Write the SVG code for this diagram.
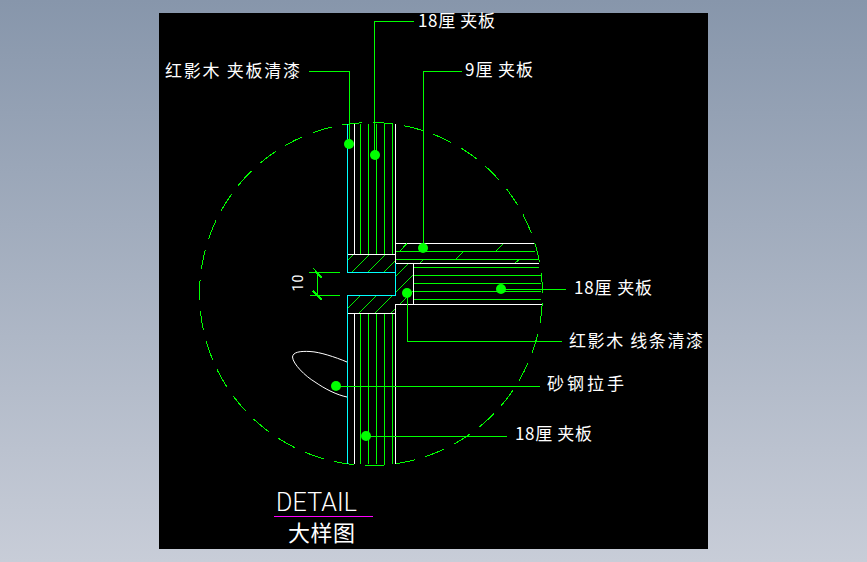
<svg xmlns="http://www.w3.org/2000/svg" width="867" height="562" viewBox="0 0 867 562">
<style>
path,rect{shape-rendering:crispEdges}
.g{stroke:#00ff00;fill:none;stroke-width:1}
.w{stroke:#fff;fill:none;stroke-width:1}
.c{stroke:#00ffff;fill:none;stroke-width:1}
.d{fill:#00ff00}
.t{fill:#fff;font-family:"Noto Sans CJK SC","Liberation Sans",sans-serif;font-size:17px;font-weight:400}
</style>
<defs>
<linearGradient id="bg" x1="0" y1="0" x2="0" y2="1"><stop offset="0" stop-color="#8796ab"/><stop offset="1" stop-color="#c8cdd8"/></linearGradient>
<pattern id="hatch" patternUnits="userSpaceOnUse" width="16" height="16"><path d="M-2 18L18 -2M-2 2L2 -2M14 18L18 14" stroke="#00f000" stroke-width="1" fill="none"/></pattern>
</defs>
<rect width="867" height="562" fill="url(#bg)"/>
<rect x="159" y="13" width="549" height="536" fill="#000"/>
<g id="outline">
<circle cx="371" cy="294" r="171.5" stroke="#00ff00" fill="none" stroke-width="1" shape-rendering="crispEdges" stroke-dasharray="20 10.79" stroke-dashoffset="21.5"/>
</g>
<g id="door-upper">
<rect x="348" y="255" width="47" height="17" fill="url(#hatch)"/>
<path class="g" d="M360.5 124V254M368.5 124V254M376.5 124V254M384.5 124V254M392.5 124V254"/>
<path class="c" d="M347.5 124V272.5H395.5"/>
<path class="w" d="M354.5 124V254.5M347.5 254.5H395.5M395.5 124V263"/>
</g>
<g id="door-lower">
<rect x="348" y="296" width="47" height="17" fill="url(#hatch)"/>
<path class="g" d="M360.5 313V464M368.5 313V464M376.5 313V464M384.5 313V464M392.5 313V464"/>
<path class="c" d="M395.5 263V295.5H347.5V464"/>
<path class="w" d="M347.5 313.5H395.5M354.5 313.5V464M395.5 304V464"/>
</g>
<g id="panel-9">
<path class="w" d="M396 243.5H534M396 263.5H539"/>
<path class="g" d="M396 251.5H535M396 259.5H538M400 251L407 243.5M496 251L503 244M456 259L463 252M420 263L423 260M515 263L519 260"/>
</g>
<g id="panel-18">
<rect x="396" y="264" width="17" height="40" fill="url(#hatch)"/>
<path class="g" d="M414 267.5H539M414 275.5H541M414 283.5H541M414 291.5H541M414 299.5H541"/>
<path class="w" d="M413.5 263.5V304M396 304.5H542"/>
</g>
<g id="handle">
<path class="w" style="shape-rendering:auto" d="M347 362C335 357 320 352 310 351.5C300 351 293 352 292.5 357C293 364 305 376 315 382C325 389 337 395 347 397"/>
</g>
<g id="connectors">
<path class="g" d="M374.5 155V21.5H414"/>
<path class="g" d="M309 71.5H349.5V144"/>
<path class="g" d="M423.5 248V71.5H462"/>
<path class="g" d="M501 289.5H566"/>
<path class="g" d="M407.5 293V341.5H562"/>
<path class="g" d="M336 386.5H540"/>
<path class="g" d="M366 436.5H507"/>
<circle class="d" cx="349" cy="144" r="5"/>
<circle class="d" cx="375" cy="155" r="5"/>
<circle class="d" cx="423" cy="248" r="5"/>
<circle class="d" cx="501" cy="289" r="5"/>
<circle class="d" cx="407" cy="293" r="5"/>
<circle class="d" cx="336" cy="386" r="5"/>
<circle class="d" cx="366" cy="436" r="5"/>
</g>
<g id="dimension">
<path class="g" d="M309 272.5H340M310 295.5H340M317.5 272V296M313 268L322 278M313 291L322 300"/>
<path class="g" style="stroke-width:2" d="M317 273L322 278M313 291L322 300"/>
<text transform="translate(303,291.5) rotate(-90)" fill="#fff" style="font-family:'Roboto',sans-serif;font-size:14px;font-weight:400" textLength="17">10</text>
</g>
<g id="label-top"><text class="t" x="418" y="27" textLength="77">18厘 夹板</text></g>
<g id="label-left"><text class="t" x="165" y="77" textLength="135">红影木 夹板清漆</text></g>
<g id="label-nine"><text class="t" x="465" y="76" textLength="68">9厘 夹板</text></g>
<g id="label-right"><text class="t" x="574" y="294" textLength="78">18厘 夹板</text></g>
<g id="label-trim"><text class="t" x="569" y="347" textLength="134">红影木 线条清漆</text></g>
<g id="label-handle"><text class="t" x="547" y="390" textLength="77">砂钢拉手</text></g>
<g id="label-bottom"><text class="t" x="515" y="440" textLength="77">18厘 夹板</text></g>
<g id="title">
<text x="276" y="511" fill="#fff" style="font-family:'Roboto',sans-serif;font-size:25px;font-weight:300" textLength="81">DETAIL</text>
<path d="M274 516.5H373" stroke="#ff00ff" fill="none"/>
<text class="t" x="288" y="541" style="font-size:22px" textLength="67">大样图</text>
</g>
</svg>
